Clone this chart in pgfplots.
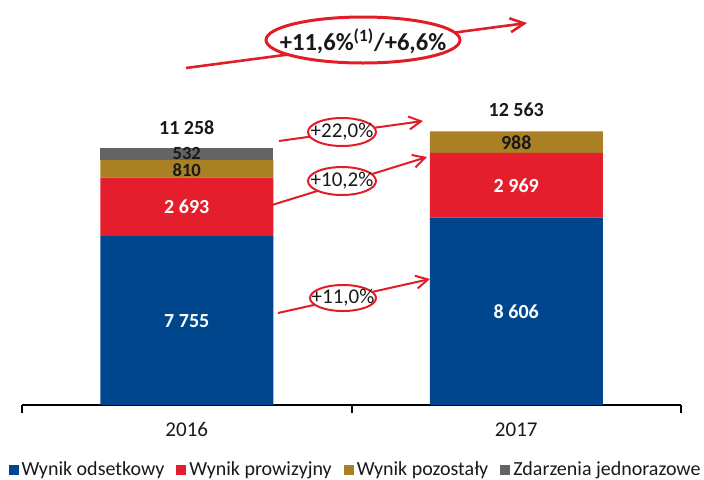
\documentclass[border=0pt]{standalone}
\usepackage{fontspec}
\setmainfont{Carlito}
\usepackage{pgfplots}
\pgfplotsset{compat=1.18}
\usetikzlibrary{arrows.meta}
\definecolor{cblue}{RGB}{0,70,140}
\definecolor{cred}{RGB}{228,30,45}
\definecolor{cgold}{RGB}{170,128,36}
\definecolor{cgray}{RGB}{100,100,100}
\definecolor{cann}{RGB}{225,30,40}
\definecolor{ctext}{RGB}{25,25,25}
\begin{document}
\begin{tikzpicture}[font=\fontsize{10}{12}\selectfont]
\begin{axis}[
  at={(0,0)}, anchor=south west,
  width=329.5pt, height=202.5pt, scale only axis,
  xmin=-0.5, xmax=1.5, ymin=0, ymax=18600,
  axis x line*=bottom, axis y line=none,
  axis line style={line width=1pt, black},
  ybar stacked, bar width=86.5pt,
  clip=false,
  xtick={-0.5,0.5,1.5}, xticklabels={,,},
  tick align=outside, major tick length=4pt,
  tick style={line width=1pt, black},
  extra x ticks={0,1}, extra x tick labels={2016,2017},
  extra x tick style={major tick length=0pt},
  xticklabel style={anchor=base, yshift=-15.5pt, font=\fontsize{10.5}{12}\selectfont, text=ctext},
  ytick=\empty,
  legend image code/.code={\fill[#1] (0pt,-2.5pt) rectangle (5pt,2.5pt);},
  legend columns=4,
  legend style={at={(0.507,-0.1605)}, anchor=center, draw=none, fill=none,
    inner sep=0pt, font=\fontsize{10}{12}\selectfont,
    /tikz/every even column/.append style={column sep=4.5pt},
    nodes={inner sep=1.5pt, text=ctext}},
]
\addplot[fill=cblue, draw=none] coordinates {(0,7755) (1,8606)};
\addplot[fill=cred, draw=none] coordinates {(0,2693) (1,2969)};
\addplot[fill=cgold, draw=none] coordinates {(0,810) (1,988)};
\addplot[fill=cgray, draw=none] coordinates {(0,532)};
\legend{Wynik odsetkowy, Wynik prowizyjny, Wynik pozostały, Zdarzenia jednorazowe}
% label positions (segment centres)
\coordinate (a1) at (axis cs:0,3877);
\coordinate (a2) at (axis cs:0,9101);
\coordinate (a3) at (axis cs:0,10790);
\coordinate (a4) at (axis cs:0,11570);
\coordinate (b1) at (axis cs:1,4303);
\coordinate (b2) at (axis cs:1,10090);
\coordinate (b3) at (axis cs:1,12069);
\coordinate (ta) at (axis cs:0,12724);
\coordinate (tb) at (axis cs:1,13550);
\end{axis}
\node[text=white, font=\bfseries] at (a1) {7 755};
\node[text=white, font=\bfseries] at (a2) {2 693};
\node[text=ctext, font=\fontsize{9.3}{10}\selectfont\bfseries, inner sep=0pt] at (a3) {810};
\node[text=ctext, font=\fontsize{9.3}{10}\selectfont\bfseries, inner sep=0pt] at (a4) {532};
\node[text=white, font=\bfseries] at (b1) {8 606};
\node[text=white, font=\bfseries] at (b2) {2 969};
\node[text=ctext, font=\bfseries] at (b3) {988};
\node[text=ctext, font=\bfseries] at (ta) {11 258};
\node[text=ctext, font=\bfseries] at (tb) {12 563};
% annotations in pixel units (origin top-left of picture)
\begin{scope}[shift={(-11pt,202.5pt)}, x=0.5pt, y=-0.5pt, every node/.style={font=\fontsize{10.5}{12}\selectfont, text=ctext}]
  % top
  \draw[cann, line width=1.3pt, -{Straight Barb[length=7pt,width=7pt]}] (186,68) -- (527,23);
  \draw[cann, line width=1.5pt, fill=white] (363,40) ellipse [x radius=97, y radius=23];
  \node[font=\fontsize{12.3}{14}\selectfont\bfseries] at (363,41) {+11,6\%\textsuperscript{(1)}/+6,6\%};
  % +22,0%
  \draw[cann, line width=1pt, -{Straight Barb[length=6pt,width=6.5pt]}] (279,141) -- (423,121);
  \draw[cann, line width=1pt, fill=white] (342,132) ellipse [x radius=34, y radius=14];
  \node at (342,132) {+22,0\%};
  % +10,2%
  \draw[cann, line width=1pt, -{Straight Barb[length=6pt,width=6.5pt]}] (272,205) -- (427,157);
  \draw[cann, line width=1pt, fill=white] (342,181) ellipse [x radius=34, y radius=14];
  \node at (342,181) {+10,2\%};
  % +11,0%
  \draw[cann, line width=1pt, -{Straight Barb[length=6pt,width=6.5pt]}] (278,313) -- (430,279);
  \draw[cann, line width=1pt, fill=white] (343,298) ellipse [x radius=33, y radius=13];
  \node at (343,298) {+11,0\%};
\end{scope}
\pgfresetboundingbox
\path[use as bounding box] (-11pt,-37pt) rectangle (341pt,202.5pt);
\end{tikzpicture}
\end{document}
